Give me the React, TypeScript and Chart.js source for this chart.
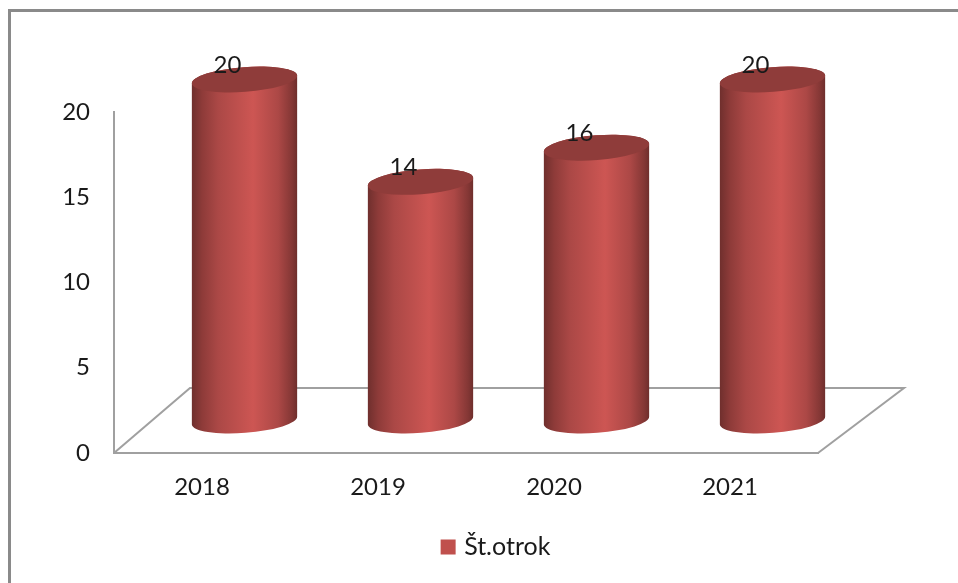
import React, { useEffect, useRef } from "react";
import { Chart, BarController, BarElement, CategoryScale, LinearScale, Legend } from "chart.js";

const categories = ["2018", "2019", "2020", "2021"];
const seriesName = "Št.otrok";
const childCounts = [20, 14, 16, 20];
const yTicks = [0, 5, 10, 15, 20];

const FONT = 'Lato, sans-serif';
const FONT_SIZE = 24;
const TEXT = "#1a1a1a";
const AXIS = "#a0a0a0";
const FRAME = "#8a8a8a";
const RED = "#C0504D";
const TOP_FACE = "#8F3C3A";
const DEPTH_X = 42.5;
const DEPTH_Y = -32.5;
const RY = 12.4;
const TILT = (-4.4 * Math.PI) / 180;

class CylinderBar extends BarElement {
  static id = "cylinderBar";
  draw(ctx: CanvasRenderingContext2D) {
    const { x, y, base, width } = (this as any).getProps(["x", "y", "base", "width"]);
    const cx = x + DEPTH_X;
    const ty = y + DEPTH_Y;
    const by = base + DEPTH_Y;
    const rx = width / 2;
    ctx.save();
    const g = ctx.createLinearGradient(cx - rx, 0, cx + rx, 0);
    g.addColorStop(0, "#6F2F2D");
    g.addColorStop(0.1, "#8E3B39");
    g.addColorStop(0.25, "#AB4846");
    g.addColorStop(0.58, "#CD5653");
    g.addColorStop(0.82, "#AC4846");
    g.addColorStop(0.95, "#843735");
    g.addColorStop(1, "#6E2E2C");
    ctx.beginPath();
    ctx.ellipse(cx, by, rx, RY, TILT, Math.PI, 0, true);
    ctx.ellipse(cx, ty, rx, RY, TILT, 0, Math.PI, true);
    ctx.closePath();
    ctx.fillStyle = g;
    ctx.fill();
    ctx.beginPath();
    ctx.ellipse(cx, ty, rx, RY, TILT, 0, Math.PI * 2);
    ctx.fillStyle = TOP_FACE;
    ctx.fill();
    ctx.restore();
  }
}

class CylinderController extends BarController {
  static id = "cylinder";
  static defaults = { ...(BarController as any).defaults, dataElementType: "cylinderBar" };
  static overrides = (BarController as any).overrides;
}

const scenePlugin = {
  id: "scene",
  beforeDraw(chart: any) {
    const { ctx, chartArea: a, width, height } = chart;
    // legend sits centred near x=495 in the reference, not on the plot area
    chart.legend.left = 37;
    chart.legend.right = chart.width;
    ctx.save();
    ctx.fillStyle = "#ffffff";
    ctx.fillRect(0, 0, width, height);
    ctx.strokeStyle = FRAME;
    ctx.lineWidth = 3;
    ctx.beginPath();
    ctx.moveTo(9.5, height);
    ctx.lineTo(9.5, 10.5);
    ctx.lineTo(width, 10.5);
    ctx.stroke();
    // floor of the 3D box, hung on the plot area's corners
    ctx.strokeStyle = AXIS;
    ctx.lineWidth = 2;
    ctx.beginPath();
    ctx.moveTo(a.left, a.bottom);
    ctx.lineTo(a.left + 76, a.bottom - 65);
    ctx.lineTo(a.right + 86, a.bottom - 65);
    ctx.lineTo(a.right, a.bottom);
    ctx.stroke();
    ctx.restore();
  },
  afterDatasetsDraw(chart: any) {
    const { ctx } = chart;
    const meta = chart.getDatasetMeta(0);
    ctx.save();
    ctx.fillStyle = TEXT;
    ctx.font = `${FONT_SIZE}px ${FONT}`;
    ctx.textAlign = "center";
    ctx.textBaseline = "middle";
    meta.data.forEach((bar: any, i: number) => {
      ctx.fillText(String(chart.data.datasets[0].data[i]), bar.x + 25.5, bar.y + DEPTH_Y - 14.5);
    });
    ctx.restore();
  },
};

Chart.register(CylinderController, CylinderBar, CategoryScale, LinearScale, Legend, scenePlugin);

export default function App() {
  const ref = useRef<HTMLCanvasElement>(null);
  useEffect(() => {
    const chart = new Chart(ref.current!, {
      type: "cylinder" as any,
      data: {
        labels: categories,
        datasets: [
          {
            label: seriesName,
            data: childCounts,
            backgroundColor: RED,
            borderColor: RED,
            borderWidth: 8,
            barPercentage: 0.6,
            categoryPercentage: 1,
            clip: false,
          },
        ],
      },
      options: {
        animation: false,
        responsive: false,
        devicePixelRatio: 1,
        layout: { padding: { top: 112, right: 140, bottom: 13.5, left: 0 } },
        plugins: {
          legend: {
            display: true,
            position: "bottom",
            labels: {
              boxWidth: 7,
              boxHeight: 7,
              padding: 10,
              color: TEXT,
              font: { family: FONT, size: 25 },
            },
          },
          tooltip: { enabled: false },
        },
        scales: {
          x: {
            type: "category",
            offset: true,
            grid: { display: false, drawTicks: false },
            border: { display: true, color: AXIS, width: 2 },
            ticks: { color: TEXT, padding: 20, maxRotation: 0, font: { family: FONT, size: FONT_SIZE } },
            afterFit: (s: any) => {
              s.height = 71.5;
            },
          },
          y: {
            type: "linear",
            min: 0,
            max: 20,
            afterBuildTicks: (s: any) => {
              s.ticks = yTicks.map((value) => ({ value }));
            },
            grid: { display: false, drawTicks: false },
            border: { display: true, color: AXIS, width: 2 },
            ticks: { color: TEXT, padding: 24, labelOffset: 0, font: { family: FONT, size: FONT_SIZE } },
            afterFit: (s: any) => {
              s.width = 114;
            },
          },
        },
      } as any,
    });
    return () => chart.destroy();
  }, []);
  return (
    <canvas
      ref={ref}
      width={958}
      height={583}
      style={{ position: "absolute", left: 0, top: 0, width: 958, height: 583 }}
    />
  );
}
